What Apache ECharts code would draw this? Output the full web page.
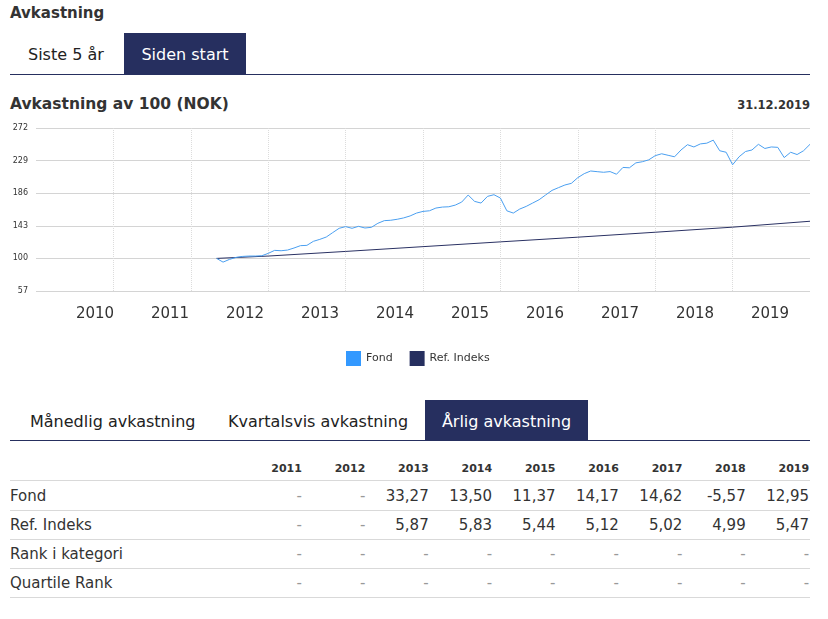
<!DOCTYPE html>
<html><head><meta charset="utf-8">
<script src="https://cdn.jsdelivr.net/npm/echarts@6/dist/echarts.min.js"></script>
<style>
body{margin:0;width:828px;height:619px;position:relative;font-family:"DejaVu Sans",Verdana,sans-serif;color:#333;background:#fff;overflow:hidden}
.abs{position:absolute;white-space:nowrap}
.line{position:absolute;height:1px}
</style></head><body>
<div class="abs" style="left:10px;top:4px;font-size:15px;font-weight:bold;line-height:18px;color:#333">Avkastning</div>
<div class="abs" style="left:28px;top:45px;font-size:16px;line-height:20px;color:#222">Siste 5 år</div>
<div class="abs" style="left:124px;top:33px;width:122px;height:41px;background:#262f5f;color:#fff;font-size:16px;line-height:43px;text-align:center">Siden start</div>
<div class="line" style="left:10px;top:74px;width:800px;background:#262f5f"></div>

<div class="abs" style="left:10px;top:95px;font-size:15.5px;font-weight:bold;line-height:18px;color:#333">Avkastning av 100 (NOK)</div>
<div class="abs" style="right:18px;top:98px;font-size:11.5px;font-weight:bold;line-height:14px;color:#333">31.12.2019</div>
<div id="chart" class="abs" style="left:0;top:115px;width:828px;height:260px"></div>

<div class="abs" style="left:30px;top:412px;font-size:16px;line-height:20px;color:#222">Månedlig avkastning</div>
<div class="abs" style="left:228px;top:412px;font-size:16px;line-height:20px;color:#222">Kvartalsvis avkastning</div>
<div class="abs" style="left:425px;top:400px;width:163px;height:40px;background:#262f5f;color:#fff;font-size:16px;line-height:44px;text-align:center">Årlig avkastning</div>
<div class="line" style="left:10px;top:440px;width:800px;background:#262f5f"></div>

<div id="tbl"></div>

<script>
// ---- chart data ----
const yearLabels = ['2010','2011','2012','2013','2014','2015','2016','2017','2018','2019'];
const fondStartYear = 2012;      // first point: end of April 2012
const fondStartMonth = 4;
const fondValues = [
  100.0, 95.1, 98.7, 101.3, 102.6, 103.1, 103.1, 103.5,
  106.6, 110.6, 110.1, 111.0, 113.7, 116.8, 117.2, 122.5, 125.1, 128.2, 134.0, 139.7,
  141.9, 139.7, 142.3, 140.1, 141.0, 146.3, 149.8, 150.3, 151.6, 153.4, 156.0, 159.8,
  162.0, 162.8, 166.4, 167.7, 168.1, 170.3, 174.3, 183.6, 175.2, 173.0, 181.8, 184.0,
  179.6, 162.8, 159.8, 165.1, 168.6, 173.0, 177.4, 183.6, 189.7, 193.3, 196.8, 199.0,
  206.5, 211.8, 215.3, 214.4, 213.6, 214.5, 211.0, 220.0, 219.5, 226.0, 227.5, 230.0,
  235.5, 238.0, 236.0, 234.0, 243.0, 250.0, 247.0, 251.0, 252.0, 256.0, 242.0, 240.0,
  223.5, 234.0, 241.0, 243.0, 250.5, 245.0, 247.0, 246.5, 233.0, 240.0, 237.0, 242.0,
  250.5
];
const refDates = [2012 + 4/12, 2013, 2014, 2015, 2016, 2017, 2018, 2019, 2020];
const refValues = [100.0, 103.1, 109.2, 115.5, 121.8, 128.0, 134.5, 141.2, 149.0];
const yTicks = {min: 57, max: 272, step: 43};

// ---- table data ----
const tableYears = ['2011','2012','2013','2014','2015','2016','2017','2018','2019'];
const tableRows = [
  ['Fond',            ['-','-','33,27','13,50','11,37','14,17','14,62','-5,57','12,95']],
  ['Ref. Indeks',     ['-','-','5,87','5,83','5,44','5,12','5,02','4,99','5,47']],
  ['Rank i kategori', ['-','-','-','-','-','-','-','-','-']],
  ['Quartile Rank',   ['-','-','-','-','-','-','-','-','-']]
];

// ---- chart ----
const fondData = fondValues.map((v, i) => [fondStartYear + (fondStartMonth + i) / 12, v]);
const refData = refValues.map((v, i) => [refDates[i], v]);

const chart = echarts.init(document.getElementById('chart'), null, {renderer: 'canvas'});
chart.setOption({
  animation: false,
  textStyle: {fontFamily: 'DejaVu Sans'},
  grid: [
    {left: 36, right: 18, top: 13, bottom: 84},
    {left: 57.5, right: 20.5, top: 13, bottom: 84}
  ],
  xAxis: [
    {type: 'value', gridIndex: 0, min: 2010, max: 2020, interval: 1,
     axisLine: {show: false}, axisTick: {show: false}, axisLabel: {show: false},
     splitLine: {show: true, showMinLine: false, showMaxLine: false,
                 lineStyle: {type: 'dotted', color: '#dcdcdc', width: 1}}},
    {type: 'category', gridIndex: 1, data: yearLabels, boundaryGap: true,
     axisLine: {show: false}, axisTick: {show: false}, splitLine: {show: false},
     axisLabel: {fontSize: 15, color: '#333', margin: 16, fontFamily: 'DejaVu Sans'}}
  ],
  yAxis: [
    {type: 'value', gridIndex: 0, min: yTicks.min, max: yTicks.max, interval: yTicks.step,
     axisLine: {show: false}, axisTick: {show: false},
     axisLabel: {fontSize: 8, color: '#333', margin: 8, fontFamily: 'DejaVu Sans'},
     splitLine: {lineStyle: {color: '#d4d4d4', width: 1}}},
    {type: 'value', gridIndex: 1, show: false, splitLine: {show: false}}
  ],
  legend: {
    data: ['Fond', 'Ref. Indeks'], icon: 'rect', itemWidth: 15, itemHeight: 15,
    itemGap: 17, left: 346, top: 236, padding: 0,
    textStyle: {fontSize: 11, color: '#333', fontFamily: 'DejaVu Sans'}
  },
  series: [
    {name: 'Fond', type: 'line', xAxisIndex: 0, yAxisIndex: 0, data: fondData,
     showSymbol: false, symbol: 'none', lineStyle: {color: '#4a9ff0', width: 1},
     itemStyle: {color: '#3399ff'}, z: 3},
    {name: 'Ref. Indeks', type: 'line', xAxisIndex: 0, yAxisIndex: 0, data: refData,
     showSymbol: false, symbol: 'none', lineStyle: {color: '#2a3163', width: 1},
     itemStyle: {color: '#262f5f'}, z: 2}
  ]
});

// ---- table ----
const tbl = document.getElementById('tbl');
const colRight0 = 238.5, colStep = 63.4;
const headerCenter = 469, rowCenters = [496, 525, 554, 583], rowLines = [480, 510, 539, 568, 597];
let html = '';
tableYears.forEach((y, i) => {
  const r = colRight0 + colStep * (i + 1);
  html += `<div class="abs" style="right:${828 - r}px;top:${headerCenter - 7}px;font-size:11px;font-weight:bold;line-height:14px;color:#333">${y}</div>`;
});
rowLines.forEach(t => {
  html += `<div class="line" style="left:10px;top:${t}px;width:800px;background:#d9d9d9"></div>`;
});
tableRows.forEach((row, ri) => {
  const c = rowCenters[ri];
  html += `<div class="abs" style="left:10px;top:${c - 10}px;font-size:15px;line-height:20px;color:#333">${row[0]}</div>`;
  row[1].forEach((v, i) => {
    const r = colRight0 + colStep * (i + 1);
    const col = v === '-' ? '#999' : '#333';
    html += `<div class="abs" style="right:${828 - r}px;top:${c - 10}px;font-size:15px;line-height:20px;color:${col}">${v}</div>`;
  });
});
tbl.innerHTML = html;
</script>
</body></html>
